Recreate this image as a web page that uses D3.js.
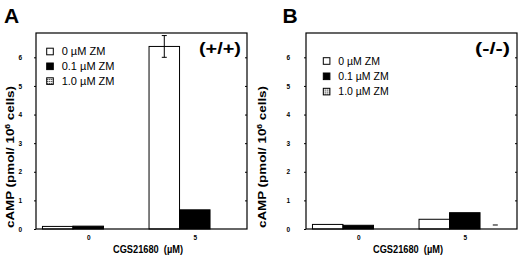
<script src='https://d3js.org/d3.v7.min.js'></script>
<style>body{margin:0;background:#fff;} text{font-family:Arial,'Liberation Sans',sans-serif;}</style>
<svg id='fig' width='520' height='257'></svg>
<script>
// data
var doses=['0','5'],
    series=['0 µM ZM','0.1 µM ZM','1.0 µM ZM'],
    yTicks=[0,1,2,3,4,5,6];
// panel A (+/+)
var wtZM0=[0.09,6.38], wtZM01=[0.10,0.67], wtZM10=[0,0],
    wtErr0=[0,0.38], wtErr01=[0,0], wtErr10=[0,0];
// panel B (-/-)
var koZM0=[0.16,0.34], koZM01=[0.13,0.57], koZM10=[0,0],
    koErr0=[0,0], koErr01=[0,0], koErr10=[0,0.14];

var svg=d3.select('#fig');
var defs=svg.append('defs');
var pat=defs.append('pattern').attr('id','dots').attr('patternUnits','userSpaceOnUse')
    .attr('width',2).attr('height',2);
pat.append('rect').attr('width',2).attr('height',2).attr('fill','#fff');
pat.append('rect').attr('width',1).attr('height',1).attr('fill','#000');
var fills=['#fff','#000','url(#dots)'];

function panel(o){
  var g=svg.append('g').attr('transform','translate('+o.dx+',0)');
  var x=d3.scalePoint().domain(doses).range([36,247]).padding(0.49),
      xs=d3.scaleBand().domain(series).range([-45.75,45.75]),
      y=d3.scaleLinear().domain([0,6.85]).range([229,33]);
  var rows=[];
  doses.forEach(function(c,i){
    series.forEach(function(s,j){rows.push({c:c,s:s,j:j,v:o.vals[j][i],e:o.errs[j][i]});});});
  // bars
  g.selectAll('.bar').data(rows.filter(function(d){return d.v>0;})).enter().append('rect')
   .attr('x',function(d){return x(d.c)+xs(d.s);})
   .attr('y',function(d){return y(d.v);})
   .attr('width',xs.bandwidth())
   .attr('height',function(d){return y(0)-y(d.v);})
   .attr('fill',function(d){return fills[d.j];})
   .attr('stroke','#000').attr('stroke-width',1);
  // error bars (only the cap is visible when the bar is empty)
  var eb=g.selectAll('.err').data(rows.filter(function(d){return d.e>0;})).enter().append('g')
   .attr('stroke','#000').attr('stroke-width',1);
  eb.filter(function(d){return d.v>0;}).append('line')
   .attr('x1',function(d){return x(d.c)+xs(d.s)+xs.bandwidth()/2;})
   .attr('x2',function(d){return x(d.c)+xs(d.s)+xs.bandwidth()/2;})
   .attr('y1',function(d){return y(d.v-d.e);})
   .attr('y2',function(d){return y(d.v+d.e);});
  eb.each(function(d){
    var cx=x(d.c)+xs(d.s)+xs.bandwidth()/2, caps=d.v>0?[d.v-d.e,d.v+d.e]:[d.v+d.e];
    d3.select(this).selectAll('.cap').data(caps).enter().append('line')
      .attr('x1',cx-2.5).attr('x2',cx+2.5)
      .attr('y1',function(v){return y(v);}).attr('y2',function(v){return y(v);});
  });
  // frame and axes
  g.append('rect').attr('x',36).attr('y',33).attr('width',211).attr('height',196)
   .attr('fill','none').attr('stroke','#000').attr('stroke-width',1.2);
  var ya=g.append('g').attr('transform','translate(36,0)')
   .call(d3.axisLeft(y).tickValues(yTicks).tickSize(2).tickPadding(o.tp).tickFormat(d3.format('d')));
  ya.select('.domain').remove();
  ya.selectAll('text').attr('font-size',6.5).attr('font-weight','bold').attr('font-family','Arial,sans-serif');
  var yr=g.append('g').attr('transform','translate(247,0)')
   .call(d3.axisRight(y).tickValues(yTicks.slice(1)).tickSize(-2).tickFormat(''));
  yr.select('.domain').remove();
  var xa=g.append('g').attr('transform','translate(0,229)')
   .call(d3.axisBottom(x).tickSize(0).tickPadding(6));
  xa.select('.domain').remove();
  xa.selectAll('text').attr('font-size',6.5).attr('font-weight','bold').attr('font-family','Arial,sans-serif');
  // axis titles
  var yt=g.append('text').attr('transform','translate('+o.ytx+',157) rotate(-90)')
   .attr('text-anchor','middle').attr('font-size',11).attr('font-weight','bold')
   .attr('textLength',142).attr('lengthAdjust','spacingAndGlyphs');
  yt.append('tspan').text('cAMP (pmol/ 10');
  yt.append('tspan').attr('font-size',7).attr('dy',-4).text('6');
  yt.append('tspan').attr('dy',4).text(' cells)');
  g.append('text').attr('x',o.xtx).attr('y',252.5).attr('text-anchor','middle')
   .attr('font-size',11).attr('font-weight','bold').style('white-space','pre')
   .attr('textLength',70).attr('lengthAdjust','spacingAndGlyphs').text('CGS21680\u00a0\u00a0(µM)');
  // panel letter and genotype
  g.append('text').attr('x',o.lx).attr('y',22.5).attr('font-size',21).attr('font-weight','bold')
   .attr('font-family','Arial,sans-serif').text(o.letter);
  g.append('text').attr('x',o.gx).attr('y',54).attr('font-size',16).attr('font-weight','bold')
   .attr('textLength',o.gw).attr('lengthAdjust','spacingAndGlyphs').text(o.geno);
  // legend
  var lg=g.selectAll('.leg').data(series).enter().append('g')
   .attr('transform',function(d,i){return 'translate('+o.legx+','+(o.legy+i*o.legs)+')';});
  lg.append('rect').attr('x',0).attr('y',-3.3).attr('width',6.6).attr('height',6.6)
   .attr('fill',function(d,i){return fills[i];}).attr('stroke','#000').attr('stroke-width',1);
  lg.append('text').attr('x',o.legt).attr('y',3.8).attr('font-size',o.legf).text(function(d){return d;});
}

panel({dx:0,vals:[wtZM0,wtZM01,wtZM10],errs:[wtErr0,wtErr01,wtErr10],tp:12,ytx:14,xtx:148,
       letter:'A',lx:4,geno:'(+/+)',gx:199,gw:42,legx:46.7,legy:51.5,legs:14.8,legt:15,legf:11});
panel({dx:270,vals:[koZM0,koZM01,koZM10],errs:[koErr0,koErr01,koErr10],tp:14,ytx:-4.5,xtx:138,
       letter:'B',lx:12.5,geno:'(-/-)',gx:205,gw:35,legx:53.3,legy:61,legs:15.3,legt:15,legf:10.5});
</script>
